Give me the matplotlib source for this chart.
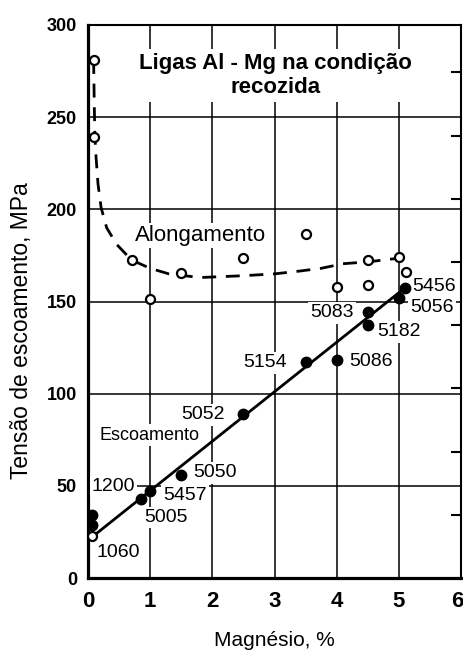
import matplotlib.pyplot as plt
from matplotlib.transforms import ScaledTranslation

# Annealed Al-Mg alloys: yield strength (filled) and elongation (open) vs Mg content
mg_yield = [0.06, 0.06, 0.85, 1.0, 1.5, 2.5, 3.5, 4.0, 4.5, 4.5, 5.0, 5.1]
yield_mpa = [34, 29, 43, 47, 56, 89, 117, 118, 144.5, 137.5, 152, 157.5]

mg_elong = [0.09, 0.09, 0.06, 0.7, 1.0, 1.5, 2.5, 3.5, 4.0, 4.5, 4.5, 5.0, 5.12]
elong = [281, 239, 23, 172.5, 151.5, 165.5, 173.5, 186.5, 158, 172.5, 159, 174, 166]

# trend lines
elong_curve_mg = [0.09, 0.10, 0.11, 0.13, 0.16, 0.21, 0.30, 0.46, 0.7, 1.0,
                  1.3, 1.8, 2.5, 3.0, 3.4, 3.75, 4.1, 4.5, 5.0]
elong_curve = [281, 258, 240, 228, 214, 201, 190, 181, 172.5, 168,
               165, 163, 164, 165, 166.5, 168, 170.5, 171.5, 173.5]
fit_mg = [0.0, 5.12]
fit_mpa = [20.5, 158]

alloys = ["1200", "5457", "5005", "1060", "5050", "5052",
          "5154", "5086", "5083", "5182", "5456", "5056"]
alloy_pos = [(0.06, 49.5), (1.21, 45), (0.9, 33), (0.13, 14), (1.7, 57), (1.5, 88.5),
             (2.5, 116.7), (4.2, 117.7), (3.57, 143.8), (4.66, 133.5), (5.22, 158), (5.18, 146.5)]

x_ticks = [0, 1, 2, 3, 4, 5, 6]
y_ticks = [0, 50, 100, 150, 200, 250, 300]

plt.rcParams['font.family'] = ['Liberation Sans', 'DejaVu Sans']

fig = plt.figure(figsize=(4.64, 6.51), dpi=100)
ax = fig.add_axes([0.1897, 0.1121, 0.8039, 0.8495])

ax.set_xlim(0, 6)
ax.set_ylim(0, 300)
ax.set_xticks(x_ticks)
ax.set_yticks(y_ticks)
ax.set_xticklabels([str(t) for t in x_ticks], family=['Liberation Sans Narrow', 'Liberation Sans'],
                   fontweight='bold', fontsize=16)
ax.set_yticklabels([str(t) for t in y_ticks], fontweight='bold', fontsize=13)
ax.tick_params(axis='x', length=0, pad=9)
ax.tick_params(axis='y', length=0, pad=8)
# last x label sits against the right border
last = ax.get_xticklabels()[-1]
last.set_transform(last.get_transform() + ScaledTranslation(-4 / 100, 0, fig.dpi_scale_trans))

# grid inside the frame only
for v in x_ticks[1:-1]:
    ax.axvline(v, color='black', lw=1.1, zorder=1)
for v in y_ticks[1:-1]:
    ax.axhline(v, color='black', lw=1.1, zorder=1)

ax.spines['left'].set_linewidth(2.3)
ax.spines['bottom'].set_linewidth(2.3)
ax.spines['top'].set_linewidth(1.5)
ax.spines['right'].set_linewidth(1.5)

# unlabeled elongation scale on the right
ax2 = ax.twinx()
ax2.set_ylim(0, 35)
ax2.set_yticks([4, 8, 12, 16, 20, 24, 28, 32])
ax2.set_yticklabels([])
ax2.tick_params(axis='y', direction='in', length=7, width=1.5)
for s in ax2.spines.values():
    s.set_visible(False)

ax.plot(fit_mg, fit_mpa, color='black', lw=2.0, zorder=4)
ax.plot(elong_curve_mg, elong_curve, color='black', lw=2.0, dashes=(5, 3.5), zorder=4)
ax.plot(mg_yield, yield_mpa, 'o', color='black', ms=7.5, zorder=5)
ax.plot(mg_elong, elong, 'o', mfc='white', mec='black', mew=1.6, ms=6.5, zorder=5)

box = dict(facecolor='white', edgecolor='none', pad=1.5)
for name, (x, y) in zip(alloys, alloy_pos):
    ax.text(x, y, name, fontsize=14, ha='left', va='center', bbox=box, zorder=3)

ax.text(0.75, 186, "Alongamento", fontsize=16, ha='left', va='center', bbox=box, zorder=3)
ax.text(0.19, 77.5, "Escoamento", fontsize=13, ha='left', va='center', bbox=box, zorder=3)
ax.text(3.01, 272.5, "Ligas Al - Mg na condição\nrecozida", fontsize=16, fontweight='bold',
        ha='center', va='center', linespacing=1.15,
        bbox=dict(facecolor='white', edgecolor='none', pad=3), zorder=3)

ax.set_xlabel("Magnésio, %", fontsize=15, labelpad=14)
ax.set_ylabel("Tensão de escoamento, MPa", fontsize=16.5)
ax.yaxis.set_label_coords(-0.147, 0.447)

fig.savefig("out.png", dpi=100)
